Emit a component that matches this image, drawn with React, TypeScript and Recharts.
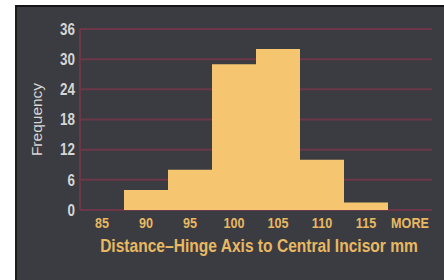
import React from 'react';
import { BarChart, Bar, XAxis, YAxis, CartesianGrid } from 'recharts';

const categories = ['85', '90', '95', '100', '105', '110', '115', 'MORE'];
const frequencies = [0, 4, 8, 29, 32, 10, 1.5, 0];
const yTicks = [0, 6, 12, 18, 24, 30, 36];

const data = categories.map((c, i) => ({ bin: c, freq: frequencies[i] }));

const FONT = '"Liberation Sans", Arial, sans-serif';
const GRID = '#6c3748';
const ORANGE = '#e8b862';
const LIGHT = '#d6d6d6';

const XTick = (props: any) => {
  const { x, y, payload } = props;
  return (
    <text
      transform={`translate(${x},${y}) scale(0.84,1)`}
      x={0}
      y={0}
      dy="0.72em"
      textAnchor="middle"
      fill={ORANGE}
      fontSize={15}
      fontFamily={FONT}
      fontWeight={700}
    >
      {payload.value}
    </text>
  );
};

const YTick = (props: any) => {
  const { x, y, payload } = props;
  return (
    <text
      transform={`translate(${x},${y}) scale(0.84,1)`}
      x={0}
      y={0}
      dy="0.36em"
      textAnchor="end"
      fill={LIGHT}
      fontSize={16}
      fontFamily={FONT}
      fontWeight={700}
    >
      {payload.value}
    </text>
  );
};

const XTitle = (props: any) => {
  const vb = props.viewBox;
  return (
    <text
      transform={`translate(${vb.x + vb.width / 2 + 3},${vb.y + 42}) scale(0.82,1)`}
      x={0}
      y={0}
      textAnchor="middle"
      fill={ORANGE}
      fontSize={19}
      fontFamily={FONT}
      fontWeight={700}
    >
      {'Distance\u2013Hinge Axis to Central Incisor mm'}
    </text>
  );
};

const YTitle = (props: any) => {
  const vb = props.viewBox;
  const cy = vb.y + vb.height / 2;
  return (
    <text
      transform={`translate(42,${cy}) rotate(-90)`}
      x={0}
      y={0}
      textAnchor="middle"
      fill={LIGHT}
      fontSize={15.5}
      fontFamily={FONT}
      fontWeight={400}
    >
      Frequency
    </text>
  );
};

export default function App() {
  return (
    <div style={{ position: 'fixed', left: 0, top: 0, width: 444, height: 280, background: '#ffffff', overflow: 'hidden' }}>
      <div
        style={{
          position: 'absolute',
          left: 15,
          top: 5,
          width: 429,
          height: 275,
          background: '#3b3c41',
          borderTop: '2px solid #151515',
          borderLeft: '2px solid #1c1c1c',
          boxSizing: 'border-box',
        }}
      />
      <div style={{ position: 'absolute', left: 0, top: 0 }}>
        <BarChart
          width={444}
          height={280}
          data={data}
          margin={{ top: 29, right: 12, bottom: 0, left: 0 }}
          barCategoryGap={0}
        >
          <CartesianGrid vertical={false} stroke={GRID} strokeWidth={2} />
          <XAxis
            dataKey="bin"
            height={70}
            axisLine={false}
            tickLine={false}
            tickSize={0}
            tickMargin={7}
            interval={0}
            tick={<XTick />}
            label={<XTitle />}
          />
          <YAxis
            width={80}
            domain={[0, 36]}
            ticks={yTicks}
            axisLine={{ stroke: GRID, strokeWidth: 2 }}
            tickLine={false}
            tickSize={0}
            tickMargin={5}
            tick={<YTick />}
            label={<YTitle />}
          />
          <YAxis
            yAxisId="right"
            orientation="right"
            width={0}
            domain={[0, 36]}
            axisLine={{ stroke: GRID, strokeWidth: 2 }}
            tick={false}
            tickLine={false}
          />
          <Bar dataKey="freq" fill="#f6c56f" isAnimationActive={false} />
        </BarChart>
      </div>
    </div>
  );
}
